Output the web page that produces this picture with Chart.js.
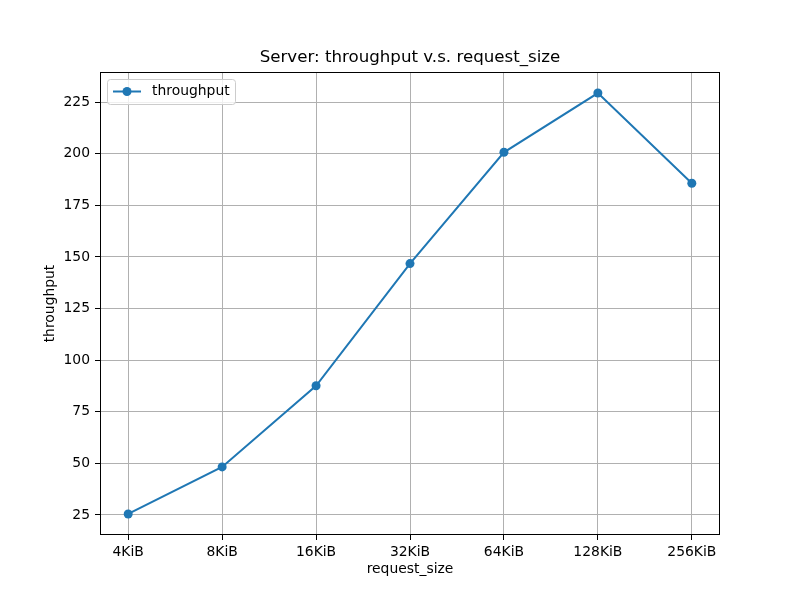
<!DOCTYPE html>
<html>
<head>
<meta charset="utf-8">
<script src="https://cdn.jsdelivr.net/npm/chart.js@4/dist/chart.umd.min.js"></script>
<style>
  html, body { margin: 0; padding: 0; background: #fff; }
  #wrap { width: 800px; height: 600px; }
</style>
</head>
<body>
<div id="wrap"><canvas id="c" width="800" height="600"></canvas></div>
<script>
const categories = ['4KiB', '8KiB', '16KiB', '32KiB', '64KiB', '128KiB', '256KiB'];
const throughput = [25.5, 48.3, 87.6, 146.8, 200.7, 229.4, 185.7];
const yTicks = [25, 50, 75, 100, 125, 150, 175, 200, 225];
const seriesLabel = 'throughput';
const titleText = 'Server: throughput v.s. request_size';
const xTitle = 'request_size';
const yTitle = 'throughput';

const BLUE = '#1f77b4';
const FONT = "'DejaVu Sans', sans-serif";

const points = categories.map((c, i) => ({ x: i, y: throughput[i] }));

const yMinData = Math.min(...throughput), yMaxData = Math.max(...throughput);
const yPad = (yMaxData - yMinData) * 0.05;
const xPad = (categories.length - 1) * 0.05;

const framePlugin = {
  id: 'frame',
  afterDatasetsDraw(chart) {
    const { ctx, chartArea: a } = chart;
    ctx.save();
    ctx.strokeStyle = '#000';
    ctx.lineWidth = 1;
    ctx.strokeRect(Math.round(a.left) + 0.5, Math.round(a.top) + 0.5,
      Math.round(a.right - a.left) - 1, Math.round(a.bottom - a.top) - 1);
    ctx.restore();
  },
  afterDraw(chart) {
    const { ctx, chartArea: a } = chart;
    const ds = chart.data.datasets[0];
    const x = a.left + 7, y = a.top + 7, w = 128, h = 25, r = 3;
    ctx.save();
    ctx.beginPath();
    ctx.roundRect(x + 0.5, y + 0.5, w, h, r);
    ctx.fillStyle = 'rgba(255,255,255,0.8)';
    ctx.fill();
    ctx.strokeStyle = '#cccccc';
    ctx.lineWidth = 1;
    ctx.stroke();
    const cy = y + 12.5;
    ctx.beginPath();
    ctx.moveTo(x + 6, cy);
    ctx.lineTo(x + 34, cy);
    ctx.strokeStyle = BLUE;
    ctx.lineWidth = 2;
    ctx.stroke();
    ctx.beginPath();
    ctx.arc(x + 20, cy, 4.5, 0, Math.PI * 2);
    ctx.fillStyle = BLUE;
    ctx.fill();
    ctx.fillStyle = '#000';
    ctx.font = "13.9px " + FONT;
    ctx.textBaseline = 'middle';
    ctx.textAlign = 'left';
    ctx.fillText(ds.label, x + 45, cy);
    ctx.restore();
  }
};

new Chart(document.getElementById('c'), {
  type: 'line',
  data: {
    datasets: [{
      label: seriesLabel,
      data: points,
      borderColor: BLUE,
      backgroundColor: BLUE,
      borderWidth: 2,
      pointRadius: 4.5,
      pointHoverRadius: 4.5,
      pointBorderWidth: 0,
      tension: 0,
      fill: false
    }]
  },
  options: {
    responsive: false,
    animation: false,
    devicePixelRatio: 1,
    layout: { padding: { left: 0, right: 80, top: 0, bottom: 0 } },
    plugins: {
      legend: { display: false },
      tooltip: { enabled: false },
      title: {
        display: true,
        text: titleText,
        fullSize: false,
        color: '#000',
        font: { family: FONT, size: 16.67, weight: 'normal', lineHeight: 1.2 },
        padding: { top: 48, bottom: 4 }
      }
    },
    scales: {
      x: {
        type: 'linear',
        min: -xPad,
        max: categories.length - 1 + xPad,
        afterBuildTicks(s) { s.ticks = categories.map((_, i) => ({ value: i })); },
        afterFit(s) { s.height = 65; },
        ticks: {
          color: '#000',
          font: { family: FONT, size: 13.9 },
          padding: 4,
          maxRotation: 0,
          autoSkip: false,
          callback: (v) => categories[v]
        },
        grid: { color: '#b0b0b0', lineWidth: 1, tickLength: 5, tickColor: '#000', drawTicks: true },
        border: { display: false },
        title: {
          display: true,
          text: xTitle,
          color: '#000',
          font: { family: FONT, size: 13.9, lineHeight: 1.2 },
          padding: { top: 0, bottom: 22.7 }
        }
      },
      y: {
        type: 'linear',
        min: yMinData - yPad,
        max: yMaxData + yPad,
        afterBuildTicks(s) { s.ticks = yTicks.map(v => ({ value: v })); },
        afterFit(s) { s.width = 100; },
        ticks: {
          color: '#000',
          font: { family: FONT, size: 13.9 },
          padding: 5,
          autoSkip: false
        },
        grid: { color: '#b0b0b0', lineWidth: 1, tickLength: 5, tickColor: '#000', drawTicks: true },
        border: { display: false },
        title: {
          display: true,
          text: yTitle,
          color: '#000',
          font: { family: FONT, size: 13.9, lineHeight: 1.2 },
          padding: { top: 41.7, bottom: 0 }
        }
      }
    }
  },
  plugins: [framePlugin]
});
</script>
</body>
</html>
